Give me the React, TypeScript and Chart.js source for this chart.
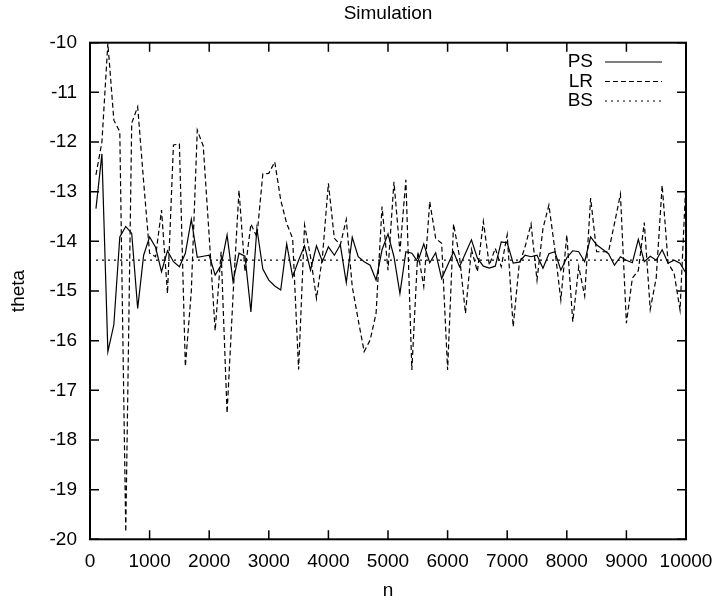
import React, { useEffect, useRef } from "react";
import { Chart, registerables } from "chart.js";

Chart.register(...registerables);

// ---------------- data ----------------
const nValues = [
  100, 200, 300, 400, 500, 600, 700, 800, 900, 1000,
  1100, 1200, 1300, 1400, 1500, 1600, 1700, 1800, 1900, 2000,
  2100, 2200, 2300, 2400, 2500, 2600, 2700, 2800, 2900, 3000,
  3100, 3200, 3300, 3400, 3500, 3600, 3700, 3800, 3900, 4000,
  4100, 4200, 4300, 4400, 4500, 4600, 4700, 4800, 4900, 5000,
  5100, 5200, 5300, 5400, 5500, 5600, 5700, 5800, 5900, 6000,
  6100, 6200, 6300, 6400, 6500, 6600, 6700, 6800, 6900, 7000,
  7100, 7200, 7300, 7400, 7500, 7600, 7700, 7800, 7900, 8000,
  8100, 8200, 8300, 8400, 8500, 8600, 8700, 8800, 8900, 9000,
  9100, 9200, 9300, 9400, 9500, 9600, 9700, 9800, 9900, 10000,
];

const psValues = [
  -13.34, -12.24, -16.22, -15.68, -13.91, -13.70, -13.84, -15.35, -14.28, -13.91,
  -14.12, -14.61, -14.19, -14.41, -14.51, -14.24, -13.56, -14.32, -14.30, -14.28,
  -14.68, -14.48, -13.87, -14.81, -14.24, -14.30, -15.42, -13.74, -14.56, -14.78,
  -14.90, -14.98, -14.05, -14.71, -14.38, -14.09, -14.58, -14.09, -14.41, -14.11,
  -14.28, -14.07, -14.83, -13.92, -14.31, -14.41, -14.48, -14.78, -14.17, -13.85,
  -14.31, -15.05, -14.21, -14.24, -14.41, -14.05, -14.43, -14.23, -14.75, -14.48,
  -14.21, -14.51, -14.24, -13.97, -14.34, -14.50, -14.54, -14.50, -14.01, -14.03,
  -14.44, -14.42, -14.28, -14.31, -14.28, -14.54, -14.25, -14.21, -14.58, -14.33,
  -14.19, -14.21, -14.41, -13.91, -14.07, -14.16, -14.25, -14.48, -14.31, -14.38,
  -14.43, -13.96, -14.41, -14.30, -14.38, -14.17, -14.44, -14.38, -14.44, -14.64,
];

const lrValues = [
  -12.66, -12.00, -10.01, -11.56, -11.79, -19.85, -11.62, -11.29, -12.80, -14.24,
  -14.31, -13.37, -15.05, -12.06, -12.04, -16.52, -15.00, -11.76, -12.08, -13.90,
  -15.80, -14.21, -17.46, -15.10, -12.97, -14.61, -13.65, -13.91, -12.64, -12.63,
  -12.40, -13.17, -13.64, -13.94, -16.58, -13.67, -14.31, -15.15, -14.31, -12.83,
  -13.94, -14.07, -13.56, -14.91, -15.58, -16.22, -15.99, -15.45, -13.30, -14.58,
  -12.80, -14.21, -12.76, -16.59, -14.21, -14.91, -13.20, -13.94, -14.04, -16.59,
  -13.65, -14.31, -15.45, -14.16, -14.61, -13.60, -14.48, -14.14, -14.51, -13.87,
  -15.72, -14.48, -14.11, -13.65, -14.78, -13.74, -13.27, -14.17, -15.18, -13.87,
  -15.62, -14.51, -15.10, -13.13, -14.21, -14.21, -14.21, -13.64, -13.05, -15.65,
  -14.74, -14.59, -13.62, -15.37, -14.74, -12.87, -14.44, -14.64, -15.38, -12.76,
];

const bsN = [100, 10000];
const bsValues = [-14.38, -14.38];

const xTicks = [0, 1000, 2000, 3000, 4000, 5000, 6000, 7000, 8000, 9000, 10000];
const yTicks = [-20, -19, -18, -17, -16, -15, -14, -13, -12, -11, -10];

const seriesNames = ["PS", "LR", "BS"];
const chartTitle = "Simulation";
const xTitle = "n";
const yTitle = "theta";

// ---------------- style ----------------
const FONT_FAMILY = '"Liberation Sans", Arial, Helvetica, sans-serif';
const FONT_SIZE = 19;
const W = 717;
const H = 604;

const toPoints = (xs: number[], ys: number[]) => xs.map((x, i) => ({ x, y: ys[i] }));

const gnuplotFrame = {
  id: "gnuplotFrame",
  afterDatasetsDraw(chart: any) {
    const { ctx, chartArea: a, scales } = chart;
    const xs = scales.x;
    const ys = scales.y;
    ctx.save();
    ctx.strokeStyle = "#000";
    ctx.setLineDash([]);

    // inward tick marks on all four sides
    const tl = 9;
    ctx.lineWidth = 1.5;
    ctx.beginPath();
    xTicks.forEach((v) => {
      const px = xs.getPixelForValue(v);
      ctx.moveTo(px, a.bottom);
      ctx.lineTo(px, a.bottom - tl);
      ctx.moveTo(px, a.top);
      ctx.lineTo(px, a.top + tl);
    });
    yTicks.forEach((v) => {
      const py = ys.getPixelForValue(v);
      ctx.moveTo(a.left, py);
      ctx.lineTo(a.left + tl, py);
      ctx.moveTo(a.right, py);
      ctx.lineTo(a.right - tl, py);
    });
    ctx.stroke();

    // border
    ctx.lineWidth = 2;
    ctx.strokeRect(a.left, a.top, a.right - a.left, a.bottom - a.top);

    // texts
    ctx.fillStyle = "#000";
    ctx.font = `${FONT_SIZE}px ${FONT_FAMILY}`;
    ctx.textBaseline = "middle";
    ctx.textAlign = "center";
    const cx = (a.left + a.right) / 2;
    ctx.fillText(chartTitle, cx, 14);
    ctx.fillText(xTitle, cx, 591);
    ctx.save();
    ctx.translate(19, (a.top + a.bottom) / 2);
    ctx.rotate(-Math.PI / 2);
    ctx.fillText(yTitle, 0, 0);
    ctx.restore();

    // key (legend)
    const rows = [62, 81.5, 101];
    chart.data.datasets.forEach((ds: any, i: number) => {
      const ry = rows[i];
      ctx.textAlign = "right";
      ctx.fillText(seriesNames[i], a.right - 93, ry);
      ctx.beginPath();
      ctx.lineWidth = ds.borderWidth;
      ctx.setLineDash(ds.borderDash || []);
      ctx.moveTo(a.right - 81, ry);
      ctx.lineTo(a.right - 24, ry);
      ctx.stroke();
    });
    ctx.restore();
  },
};

export default function App() {
  const canvasRef = useRef<HTMLCanvasElement | null>(null);

  useEffect(() => {
    const canvas = canvasRef.current;
    if (!canvas) return;
    const chart = new Chart(canvas, {
      type: "line",
      data: {
        datasets: [
          {
            label: seriesNames[0],
            data: toPoints(nValues, psValues),
            borderColor: "#000",
            borderWidth: 1.2,
            pointRadius: 0,
            tension: 0,
            fill: false,
          },
          {
            label: seriesNames[1],
            data: toPoints(nValues, lrValues),
            borderColor: "#000",
            borderWidth: 1.2,
            borderDash: [5, 3],
            pointRadius: 0,
            tension: 0,
            fill: false,
          },
          {
            label: seriesNames[2],
            data: toPoints(bsN, bsValues),
            borderColor: "#000",
            borderWidth: 1.2,
            borderDash: [2, 4],
            pointRadius: 0,
            tension: 0,
            fill: false,
          },
        ],
      },
      options: {
        animation: false,
        responsive: false,
        devicePixelRatio: 1,
        layout: { padding: { left: 0, right: 31, top: 42.7, bottom: 0 } },
        plugins: {
          legend: { display: false },
          title: { display: false },
          tooltip: { enabled: false },
        },
        scales: {
          x: {
            type: "linear",
            min: 0,
            max: 10000,
            afterBuildTicks: (scale: any) => {
              scale.ticks = xTicks.map((v) => ({ value: v }));
            },
            afterFit: (scale: any) => {
              scale.height = 64.7;
              scale.paddingLeft = 0;
              scale.paddingRight = 0;
            },
            grid: { display: false, drawTicks: false },
            border: { display: false },
            ticks: {
              color: "#000",
              padding: 11,
              maxRotation: 0,
              autoSkip: false,
              font: { family: FONT_FAMILY, size: FONT_SIZE },
              callback: (v: any) => String(v),
            },
          },
          y: {
            type: "linear",
            min: -20,
            max: -10,
            afterBuildTicks: (scale: any) => {
              scale.ticks = yTicks.map((v) => ({ value: v }));
            },
            afterFit: (scale: any) => {
              scale.width = 90;
              scale.paddingTop = 0;
              scale.paddingBottom = 0;
            },
            grid: { display: false, drawTicks: false },
            border: { display: false },
            ticks: {
              color: "#000",
              padding: 13,
              autoSkip: false,
              font: { family: FONT_FAMILY, size: FONT_SIZE },
              callback: (v: any) => String(v),
            },
          },
        },
      },
      plugins: [gnuplotFrame],
    });
    return () => chart.destroy();
  }, []);

  return (
    <div style={{ position: "absolute", left: 0, top: 0, width: W, height: H, background: "#fff" }}>
      <canvas ref={canvasRef} width={W} height={H} style={{ display: "block", width: W, height: H }} />
    </div>
  );
}
